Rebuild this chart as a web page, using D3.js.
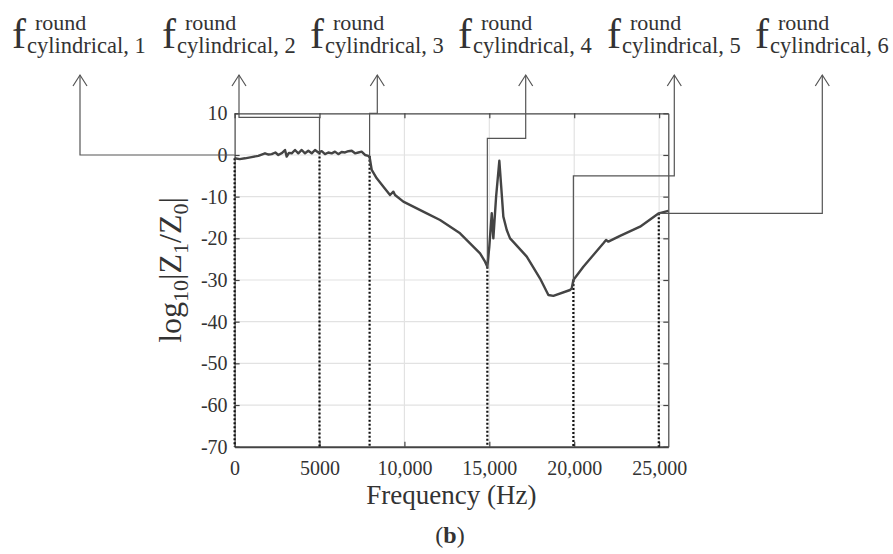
<!DOCTYPE html>
<html lang="en">
<head>
    <meta charset="utf-8">
    <script src="https://d3js.org/d3.v7.min.js"></script>
    <title>Impedance ratio</title>
    <style>
        body { margin: 0; background: #fff; }
        svg text { font-family: "Liberation Serif", "DejaVu Serif", serif; fill: #333; }
    </style>
</head>
<body>
    <svg id="chart"></svg>
    <script>
        // curve: frequency (Hz) and log10|Z1/Z0|
        const FREQ = [0,300,612,1000,1396,1790,2000,2185,2400,2574,2800,2969,3068,3200,3363,3557,3752,3952,4147,4341,4541,4736,4930,5130,5325,5520,5719,5910,6108,6300,6503,6700,6897,7092,7286,7480,7680,7875,7950,
                      8075,8370,8764,9153,9348,9448,9937,11315,12098,13276,13865,14454,14748,14884,15000,15143,15237,15400,15590,15700,15826,16026,16221,16400,17205,17982,18478,18771,19755,19855,19950,
                      20538,21127,21716,21875,22011,22700,23878,24980,25540];
        const VALUE = [-0.8,-1.0,-0.8,-0.5,-0.2,0.4,0.1,0.2,0.6,0.0,0.5,1.2,-0.4,0.5,0.4,1.2,0.4,1.2,0.4,1.0,0.4,1.2,0.6,0.9,0.2,0.6,0.4,0.8,0.2,0.7,0.6,0.9,1.0,0.4,0.6,0.8,0.0,-0.2,-0.5,
                       -3.6,-5.6,-7.6,-9.6,-8.8,-9.6,-11.2,-14.0,-15.6,-18.8,-21.2,-23.6,-25.6,-26.8,-22,-14,-20,-10,-1.4,-7.6,-14.8,-18,-20,-20.8,-24.4,-29.6,-33.6,-33.8,-32.4,-32,-30,
                       -26.8,-24,-21.2,-20.4,-20.8,-19.4,-17.2,-14,-13.4];

        // marked cylindrical round frequencies
        const MARK_FREQ = [0, 5000, 7950, 14884, 19950, 24980];
        const MARK_VALUE = [-0.8, 0.6, -0.2, -26.8, -30, -14];
        const MARK_NAMES = ["1", "2", "3", "4", "5", "6"];

        const X_TICKS = [0, 5000, 10000, 15000, 20000, 25000];
        const Y_TICKS = [10, 0, -10, -20, -30, -40, -50, -60, -70];

        const W = 893, H = 554;
        const margin = {left: 234.6, right: W - 668.3, top: 113.3, bottom: H - 446.7};

        const svg = d3.select("#chart").attr("width", W).attr("height", H);

        const x = d3.scaleLinear().domain([0, 25540]).range([margin.left, W - margin.right]);
        const y = d3.scaleLinear().domain([-70, 10]).range([H - margin.bottom, margin.top]);

        // grid
        svg.append("g").selectAll("line").data(X_TICKS.slice(1)).join("line")
            .attr("x1", d => x(d)).attr("x2", d => x(d))
            .attr("y1", y(10)).attr("y2", y(-70))
            .attr("stroke", "#e2e2e2").attr("stroke-width", 1.2);
        svg.append("g").selectAll("line").data(Y_TICKS.slice(1, -1)).join("line")
            .attr("x1", x.range()[0]).attr("x2", x.range()[1])
            .attr("y1", d => y(d)).attr("y2", d => y(d))
            .attr("stroke", "#e2e2e2").attr("stroke-width", 1.2);

        // axes, ticks inside like matlab
        const fmt = d => d >= 10000 ? d3.format(",")(d) : String(d);
        const xAxis = svg.append("g").attr("transform", `translate(0,${y(-70)})`)
            .call(d3.axisBottom(x).tickValues(X_TICKS).tickFormat(fmt).tickSizeInner(-5).tickSizeOuter(0).tickPadding(14));
        const yAxis = svg.append("g").attr("transform", `translate(${x(0)},0)`)
            .call(d3.axisLeft(y).tickValues(Y_TICKS).tickFormat(d => String(d)).tickSizeInner(-5).tickSizeOuter(0).tickPadding(7));
        svg.append("g").attr("transform", `translate(0,${y(10)})`)
            .call(d3.axisTop(x).tickValues(X_TICKS).tickFormat("").tickSizeInner(-5).tickSizeOuter(0));
        svg.append("g").attr("transform", `translate(${x.range()[1]},0)`)
            .call(d3.axisRight(y).tickValues(Y_TICKS).tickFormat("").tickSizeInner(-5).tickSizeOuter(0));
        svg.selectAll("g").attr("font-family", null);
        svg.selectAll(".domain, .tick line").attr("stroke", "#444").attr("stroke-width", 1.2);
        xAxis.select(".domain").attr("stroke-width", 2);
        xAxis.selectAll("text").attr("font-size", 20).attr("fill", "#333");
        yAxis.selectAll("text").attr("font-size", 20).attr("fill", "#333");

        // dotted markers from curve down to the x axis
        svg.append("g").selectAll("line").data(MARK_FREQ).join("line")
            .attr("x1", d => x(d)).attr("x2", d => x(d))
            .attr("y1", (d, i) => y(MARK_VALUE[i])).attr("y2", y(-70))
            .attr("stroke", "#111").attr("stroke-width", 2.2).attr("stroke-dasharray", "2,2");

        // curve
        const line = d3.line().x(d => x(d[0])).y(d => y(d[1]));
        svg.append("path").datum(d3.zip(FREQ, VALUE))
            .attr("d", line).attr("fill", "none")
            .attr("stroke", "#444").attr("stroke-width", 2.4).attr("stroke-linejoin", "round");

        // labels and leader arrows
        const labelX = [12, 162, 310, 458, 607, 755];
        const arrowX = [80, 239, 377.3, 525.7, 674.3, 822.3];
        const elbowV = [null, 9, 10, 4, -5, null];   // level of horizontal run, in data units
        const tipY = 75;

        MARK_FREQ.forEach((f, i) => {
            const mx = x(f), my = y(MARK_VALUE[i]);
            let pts;
            if (elbowV[i] === null) {
                const hy = i === 0 ? y(0) : my;
                pts = [[arrowX[i], tipY], [arrowX[i], hy], [mx, hy]];
            } else {
                const ey = y(elbowV[i]);
                pts = [[arrowX[i], tipY], [arrowX[i], ey], [mx, ey], [mx, my]];
            }
            svg.append("path").attr("d", d3.line()(pts))
                .attr("fill", "none").attr("stroke", "#555").attr("stroke-width", 1.2);
            svg.append("path")
                .attr("d", d3.line()([[arrowX[i] - 7, tipY + 11], [arrowX[i], tipY], [arrowX[i] + 7, tipY + 11]]))
                .attr("fill", "none").attr("stroke", "#555").attr("stroke-width", 1.2);

            const g = svg.append("g").attr("transform", `translate(${labelX[i]},0)`);
            g.append("text").attr("x", 0).attr("y", 48).attr("font-size", 42).text("f");
            g.append("text").attr("x", 23).attr("y", 30).attr("font-size", 22).text("round");
            g.append("text").attr("x", 15).attr("y", 53).attr("font-size", 22.5).text("cylindrical, " + MARK_NAMES[i]);
        });

        // y label
        const yl = svg.append("text").attr("transform", "translate(181,270) rotate(-90)")
            .attr("text-anchor", "middle").attr("font-size", 32);
        yl.append("tspan").text("log");
        yl.append("tspan").attr("font-size", 22).attr("dy", 7).text("10");
        yl.append("tspan").attr("dy", -7).text("|Z");
        yl.append("tspan").attr("font-size", 22).attr("dy", 7).text("1");
        yl.append("tspan").attr("dy", -7).text("/Z");
        yl.append("tspan").attr("font-size", 22).attr("dy", 7).text("0");
        yl.append("tspan").attr("dy", -7).text("|");

        // x label and panel letter
        svg.append("text").attr("x", (x.range()[0] + x.range()[1]) / 2).attr("y", 504)
            .attr("text-anchor", "middle").attr("font-size", 27).text("Frequency (Hz)");
        const pl = svg.append("text").attr("x", 450).attr("y", 543)
            .attr("text-anchor", "middle").attr("font-size", 24);
        pl.append("tspan").text("(");
        pl.append("tspan").attr("font-weight", "bold").text("b");
        pl.append("tspan").text(")");
    </script>
</body>
</html>
